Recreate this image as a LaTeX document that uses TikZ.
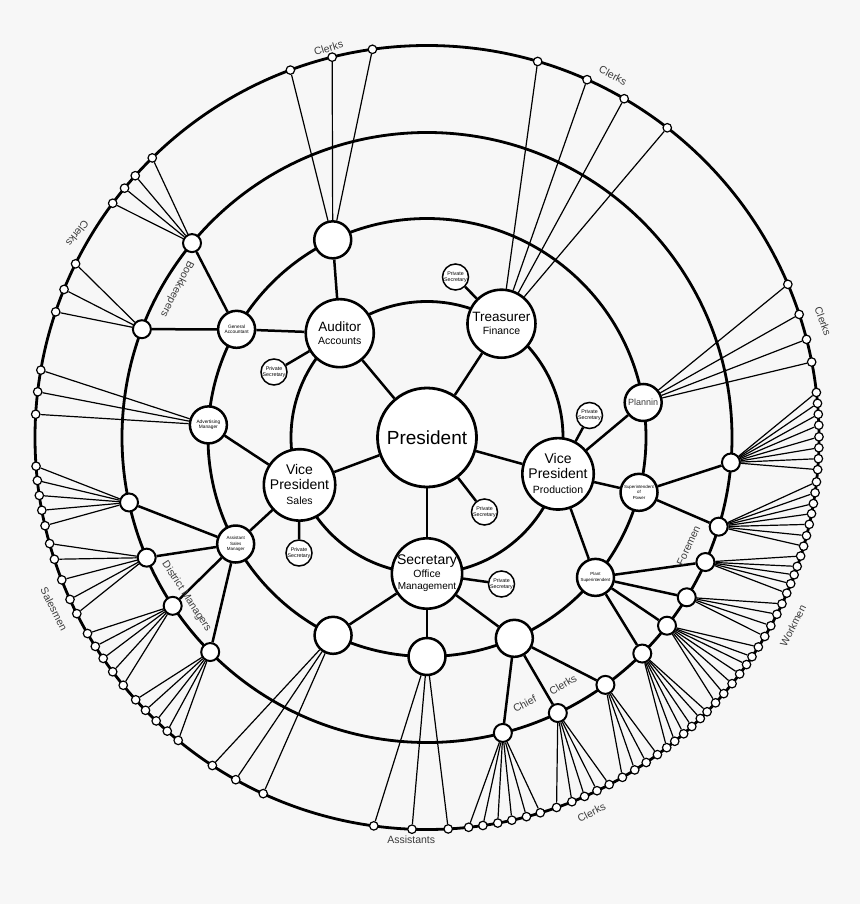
\documentclass[tikz,border=0pt]{standalone}
\usepackage{fontspec}
\setmainfont{Liberation Sans}
\definecolor{bgcol}{RGB}{247,247,247}
\definecolor{lblcol}{RGB}{60,60,60}
\pgfdeclarelayer{back}
\pgfdeclarelayer{bg}
\pgfsetlayers{back,bg,main}
\newcommand\myfs[2]{\fontsize{#1}{#2}\selectfont}
\newcommand\myfan[3]{%
  \foreach \a [count=\i] in {#3}{%
    \node[outnode] (#2\i) at (\a:392) {};
    \draw[fan] (#1) -- (#2\i);
  }%
}
\begin{document}
\begin{tikzpicture}[x=1pt,y=-1pt,
  ringline/.style={line width=2.8pt},
  link/.style={line width=2.5pt},
  fan/.style={line width=1.2pt},
  presnode/.style={circle,draw,fill=white,line width=2.8pt,minimum size=99pt,inner sep=0pt,font=\myfs{19}{21}},
  onenode/.style={circle,draw,fill=white,line width=2.6pt,minimum size=68pt,inner sep=0pt,align=center,font=\myfs{10.5}{13}},
  psnode/.style={circle,draw,fill=white,line width=1.5pt,minimum size=26pt,inner sep=0pt,align=center,font=\myfs{5.3}{6}},
  twonode/.style={circle,draw,fill=white,line width=2.5pt,minimum size=37pt,inner sep=0pt,align=center,font=\myfs{4.8}{5.6}},
  threenode/.style={circle,draw,fill=white,line width=2pt,minimum size=18pt,inner sep=0pt},
  outnode/.style={circle,draw,fill=white,line width=1.2pt,minimum size=8.5pt,inner sep=0pt},
  lbl/.style={text=lblcol,font=\myfs{10.5}{12},inner sep=0pt},
]
\begin{pgfonlayer}{back}
\fill[bgcol] (0,0) rectangle (860,904);
\end{pgfonlayer}
\useasboundingbox (0,0) rectangle (860,904);
\begin{scope}[shift={(427,437.5)}]
\begin{pgfonlayer}{bg}
\foreach \r in {136,219,305,392} \draw[ringline] (0,0) circle[radius=\r pt];
\end{pgfonlayer}

% centre and first ring
\node[presnode] (pres) at (0,0) {President};
\node[onenode] (aud) at (230.1:136) {{\myfs{13.5}{15}Auditor}\\{\myfs{10.5}{12}Accounts}};
\node[onenode] (tre) at (-56.8:136) {{\myfs{13.5}{15}Treasurer}\\{\myfs{10.5}{12}Finance}};
\node[onenode,font=\myfs{10}{15}] (vpp) at (15.5:136) {{\myfs{14}{15}Vice}\\{\myfs{14}{15}President}\\{\myfs{10.5}{12}Production}};
\node[onenode,font=\myfs{10}{12.5}] (sec) at (90:136) {{\myfs{14}{15}Secretary}\\{\myfs{10.5}{12}Office}\\{\myfs{10}{12}Management}};
\node[onenode,font=\myfs{10}{15}] (vps) at (159.6:136) {{\myfs{14}{15}Vice}\\{\myfs{14}{15}President}\\{\myfs{10.5}{12}Sales}};

% private secretaries
\node[psnode] (ps1) at (28.5,-160.5) {Private\\Secretary};
\node[psnode] (ps2) at (-153,-65.5) {Private\\Secretary};
\node[psnode] (ps3) at (57.5,74.5) {Private\\Secretary};
\node[psnode] (ps4) at (-128,115.5) {Private\\Secretary};
\node[psnode] (ps5) at (74.5,146.5) {Private\\Secretary};
\node[psnode] (ps6) at (162.5,-22) {Private\\Secretary};

% second ring
\node[twonode] (top) at (244.5:219) {};
\node[twonode] (ga) at (209.6:219) {General\\Accountant};
\node[twonode] (adv) at (183.3:219) {Advertising\\Manager};
\node[twonode,font=\myfs{4.5}{5.5}] (asm) at (150.9:219) {Assistant\\Sales\\Manager};
\node[twonode] (sa1) at (115.4:219) {};
\node[twonode] (sa2) at (90:219) {};
\node[twonode] (sa3) at (66.5:219) {};
\node[twonode,font=\myfs{4.4}{5.6}] (plant) at (39.7:219) {Plant\\Superintendent};
\node[twonode,font=\myfs{4.4}{5.8}] (power) at (14.5:219) {Superintendent\\of\\Power};
\node[twonode,font=\myfs{9}{10},text=lblcol] (plan) at (-9.2:219) {Plannin};

% third ring
\node[threenode] (bk) at (219.6:305) {};
\node[threenode] (gc) at (200.8:305) {};
\node[threenode] (s1) at (167.7:305) {};
\node[threenode] (s2) at (156.8:305) {};
\node[threenode] (s3) at (146.5:305) {};
\node[threenode] (s4) at (135.3:305) {};
\node[threenode] (chief) at (75.6:305) {};
\node[threenode] (clk) at (64.6:305) {};
\node[threenode] (w1) at (54.2:305) {};
\node[threenode] (w2) at (45.1:305) {};
\node[threenode] (w3) at (38.1:305) {};
\node[threenode] (w4) at (31.6:305) {};
\node[threenode] (w5) at (24.1:305) {};
\node[threenode] (w6) at (17.0:305) {};
\node[threenode] (w7) at (4.7:305) {};

% links
\foreach \n in {aud,tre,vpp,sec,vps,ps3} \draw[link] (pres) -- (\n);
\foreach \n in {ps2,ga,top} \draw[link] (aud) -- (\n);
\draw[link] (tre) -- (ps1);
\foreach \n in {ps6,plan,power,plant} \draw[link] (vpp) -- (\n);
\foreach \n in {ps5,sa1,sa2,sa3} \draw[link] (sec) -- (\n);
\foreach \n in {ps4,adv,asm} \draw[link] (vps) -- (\n);
\foreach \n in {bk,gc} \draw[link] (ga) -- (\n);
\foreach \n in {s1,s2,s3,s4} \draw[link] (asm) -- (\n);
\foreach \n in {chief,clk,w1} \draw[link] (sa3) -- (\n);
\foreach \n in {w2,w3,w4,w5} \draw[link] (plant) -- (\n);
\foreach \n in {w6,w7} \draw[link] (power) -- (\n);

% fans to the outer ring
\myfan{top}{tc}{249.6,256.0,262.0}
\myfan{tre}{trc}{-73.6,-65.9,-59.8,-52.2}
\myfan{plan}{plc}{-23.0,-18.3,-14.5,-11.1}
\myfan{bk}{bkc}{225.5,221.9,219.5,216.7}
\myfan{gc}{gcc}{206.3,202.2,198.7}
\myfan{adv}{adc}{189.9,186.7,183.4}
\myfan{s1}{sma}{175.8,173.7,171.5,169.3,167.0}
\myfan{s2}{smb}{164.3,161.9,158.7,155.6,153.3}
\myfan{s3}{smc}{150.0,147.8,145.7,143.3,140.8}
\myfan{s4}{smd}{138.0,135.9,133.7,131.5,129.4}
\myfan{sa1}{asa}{123.2,119.2,114.7}
\myfan{sa2}{asb}{97.8,92.2,86.9}
\myfan{chief}{chc}{73.2,75.3,77.5,79.6,81.8,83.9}
\myfan{clk}{ckc}{62.3,64.3,66.3,68.3,70.7}
\myfan{w1}{wka}{54.0,56.0,58.0,60.1}
\myfan{w2}{wkb}{44.4,45.8,47.5,49.1,50.8,52.3}
\myfan{w3}{wkc}{32.3,34.0,35.4,37.1,38.9,40.8,42.6}
\myfan{w4}{wkd}{25.1,26.8,28.7,30.5}
\myfan{w5}{wke}{17.6,19.2,20.5,21.9,23.4}
\myfan{w6}{wkf}{6.5,8.1,9.7,11.2,12.8,14.5,16.1}
\myfan{w7}{wkg}{-6.6,-5.0,-3.4,-1.8,-0.1,1.5,3.1,4.7}

% labels
\node[lbl,rotate=17] (l1) at (-98.5,-389.5) {Clerks};
\node[lbl,rotate=-28] (l2) at (186,-362) {Clerks};
\node[lbl,rotate=-70] (l3) at (396,-116) {Clerks};
\node[lbl,rotate=63] (l4) at (366,188.5) {Workmen};
\node[lbl,rotate=65] (l5) at (261.5,108) {Foremen};
\node[lbl,rotate=27] (l6) at (164.5,375) {Clerks};
\node[lbl] (l7) at (-15.8,401.8) {Assistants};
\node[lbl,rotate=28] (l8) at (97.7,266.2) {Chief};
\node[lbl,rotate=31] (l9) at (136,247.5) {Clerks};
\node[lbl,rotate=-63] (l10) at (-373,171.5) {Salesmen};
\node[lbl,rotate=-57] (l11) at (-240.5,159) {District Managers};
\node[lbl,rotate=232] (l12) at (-349.5,-204) {Clerks};
\node[lbl,rotate=243] (l13) at (-250,-148.5) {Bookkeepers};
\end{scope}
\end{tikzpicture}
\end{document}
